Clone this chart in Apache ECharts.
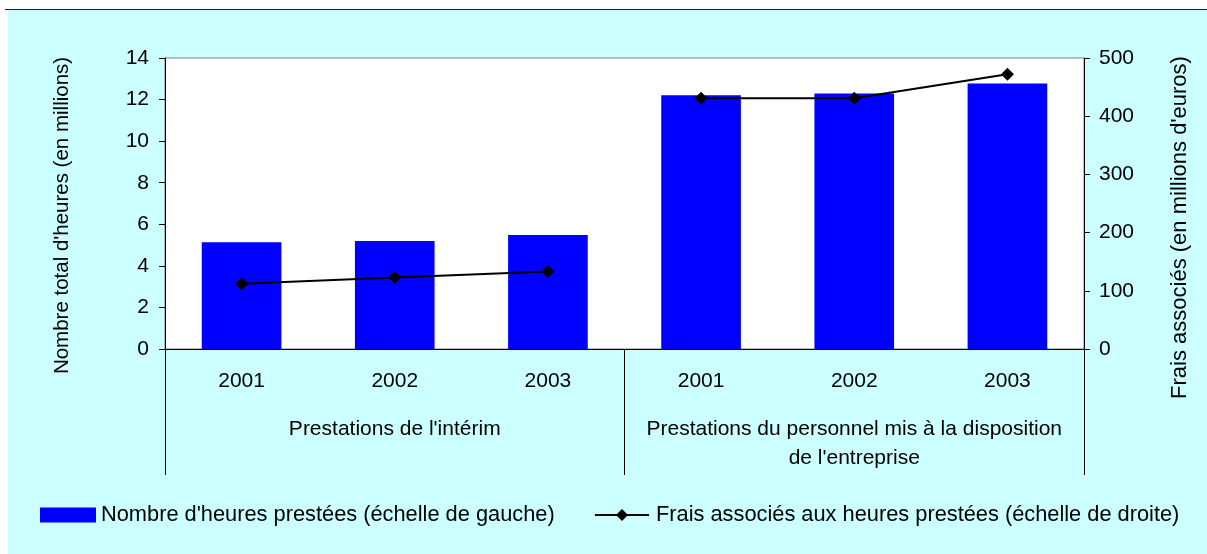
<!DOCTYPE html>
<html>
<head>
<meta charset="utf-8">
<script src="https://cdn.jsdelivr.net/npm/echarts@6/dist/echarts.min.js"></script>
<style>
  html, body { margin: 0; padding: 0; background: #fff; }
  #bg { position: absolute; left: 8px; top: 10px; width: 1199px; height: 544px; background: #ccffff; }
  #topline { position: absolute; left: 5px; top: 9px; width: 1202px; height: 1px; background: #0000ff; }
  #main { position: absolute; left: 0; top: 0; width: 1207px; height: 554px; }
</style>
</head>
<body>
<div id="bg"></div>
<div id="topline"></div>
<div id="main"></div>
<script>
// catégories
var years = ['2001', '2002', '2003', '2001', '2002', '2003'];
var groups = ["Prestations de l'intérim", "Prestations du personnel mis à la disposition\nde l'entreprise"];

// valeurs
var heures = [5.13, 5.2, 5.48, 12.21, 12.29, 12.77];
var fraisInterim = [112, 123, 133, '-', '-', '-'];
var fraisPersonnel = ['-', '-', '-', 431, 431, 472];

var nomBarres = "Nombre d'heures prestées (échelle de gauche)";
var nomLigne = "Frais associés aux heures prestées (échelle de droite)";

var chartDom = document.getElementById('main');
var myChart = echarts.init(chartDom);

var font = 'Liberation Sans, Arial, sans-serif';
var fs = 21;

var option = {
    backgroundColor: 'transparent',
    textStyle: { fontFamily: font, color: '#000' },
    grid: {
        left: 165, right: 123, top: 58, bottom: 205,
        show: true, backgroundColor: '#fff', borderColor: '#808080', borderWidth: 1
    },
    legend: [
        {
            data: [nomBarres],
            left: 40, top: 504, padding: 0,
            itemWidth: 56, itemHeight: 15, itemGap: 3,
            textStyle: { fontFamily: font, fontSize: 21.8, color: '#000' },
            icon: 'rect'
        },
        {
            data: [nomLigne],
            left: 594, top: 504, padding: 0,
            itemWidth: 54, itemHeight: 15,
            textStyle: { fontFamily: font, fontSize: 21.8, color: '#000', padding: [0, 0, 0, 2] }
        }
    ],
    xAxis: [
        {
            type: 'category',
            data: years,
            axisLine: { lineStyle: { color: '#000', width: 1 } },
            axisTick: { show: false },
            axisLabel: { fontSize: fs, color: '#000', margin: 22, fontFamily: font }
        },
        {
            type: 'category',
            data: groups,
            position: 'bottom',
            axisLine: { show: false },
            axisTick: { show: true, interval: 0, length: 126, lineStyle: { color: '#000', width: 1 } },
            axisLabel: { fontSize: fs, color: '#000', margin: 66, lineHeight: 29, fontFamily: font, interval: 0 }
        }
    ],
    yAxis: [
        {
            type: 'value',
            min: 0, max: 14, interval: 2,
            name: "Nombre total d'heures (en millions)",
            nameLocation: 'middle',
            nameGap: 92,
            nameTextStyle: { fontSize: 20.5, color: '#000', fontFamily: font, padding: [0, 24, 0, 0] },
            axisLine: { show: true, lineStyle: { color: '#000', width: 1 } },
            axisTick: { show: true, length: 6, lineStyle: { color: '#000' } },
            axisLabel: { fontSize: fs, color: '#000', margin: 16, fontFamily: font },
            splitLine: { show: false }
        },
        {
            type: 'value',
            min: 0, max: 500, interval: 100,
            name: "Frais associés (en millions d'euros)",
            nameLocation: 'middle',
            nameGap: 85,
            nameRotate: 90,
            nameTextStyle: { fontSize: 22, color: '#000', fontFamily: font, padding: [0, 48, 0, 0] },
            axisLine: { show: true, lineStyle: { color: '#000', width: 1 } },
            axisTick: { show: true, length: 6, lineStyle: { color: '#000' } },
            axisLabel: { fontSize: fs, color: '#000', margin: 15, fontFamily: font },
            splitLine: { show: false }
        }
    ],
    series: [
        {
            name: nomBarres,
            type: 'bar',
            data: heures,
            barWidth: '52%',
            itemStyle: { color: '#0000ff' }
        },
        {
            name: nomLigne,
            type: 'line',
            yAxisIndex: 1,
            data: fraisInterim,
            symbol: 'diamond',
            symbolSize: 13,
            lineStyle: { color: '#000', width: 2 },
            itemStyle: { color: '#000' }
        },
        {
            name: nomLigne,
            type: 'line',
            yAxisIndex: 1,
            data: fraisPersonnel,
            symbol: 'diamond',
            symbolSize: 13,
            lineStyle: { color: '#000', width: 2 },
            itemStyle: { color: '#000' }
        }
    ]
};

option && myChart.setOption(option);
</script>
</body>
</html>
